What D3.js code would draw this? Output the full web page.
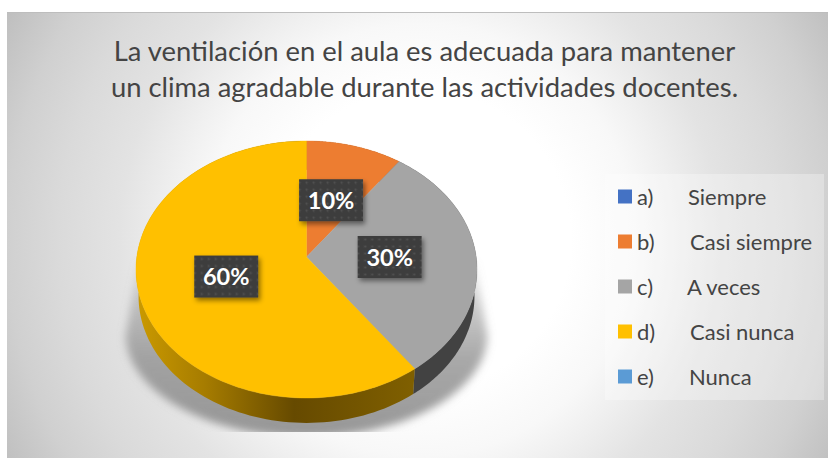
<!DOCTYPE html>
<html><head><meta charset="utf-8">
<script src="https://cdn.jsdelivr.net/npm/d3@7/dist/d3.min.js"></script>
<style>html,body{margin:0;padding:0;background:#fff}svg{display:block}text{font-family:Lato,"Open Sans",sans-serif}</style>
</head><body><script>
const titleLines = ["La ventilación en el aula es adecuada para mantener","un clima agradable durante las actividades docentes."];
const letters = ["a)","b)","c)","d)","e)"];
const names = ["Siempre","Casi siempre","A veces","Casi nunca","Nunca"];
const values = [0,10,30,60,0];
const colors = ["#4472c4","#ed7d31","#a5a5a5","#ffc000","#5b9bd5"];
const nameNudge = [0,2,-1,2,1];

const W=828,H=458;
const svg=d3.select("body").append("svg").attr("width",W).attr("height",H);
const defs=svg.append("defs");

// background
const bg=defs.append("radialGradient").attr("id","bg").attr("gradientUnits","userSpaceOnUse")
  .attr("cx",420).attr("cy",240).attr("r",470);
[[0,"#ffffff"],[0.32,"#ffffff"],[0.46,"#f8f8f8"],[0.53,"#f0f0f0"],[0.64,"#e3e3e3"],[0.77,"#dadada"],[0.88,"#d0d0d0"],[1,"#bfbfbf"]]
  .forEach(s=>bg.append("stop").attr("offset",s[0]).attr("stop-color",s[1]));
svg.append("rect").attr("x",7).attr("y",12).attr("width",W-7).attr("height",H-12).attr("fill","url(#bg)");
svg.append("line").attr("x1",7).attr("x2",W).attr("y1",12.5).attr("y2",12.5).attr("stroke","#bdbdbd");

// title
svg.append("g").selectAll("text").data(titleLines).join("text")
  .attr("x",424.5).attr("y",(d,i)=>61+i*36).attr("text-anchor","middle")
  .attr("font-size",27.4).attr("fill","#444").text(d=>d);

// perspective pie
const cx=306.5,cy=257,rx=169.7,a=127.3,k=0.0973,depth=27,lowScale=0.985;
const proj=(t,f=1)=>{const u=Math.sin(t)*f,v=-Math.cos(t)*f,w=1-k*v;return [cx+rx*u/w,cy+a*v/w];};
const low=(t)=>{const p=proj(t);return [cx+(p[0]-cx)*lowScale,cy+depth+(p[1]-cy)*lowScale];};
const pie=d3.pie().sort(null).startAngle(0).endAngle(2*Math.PI)(values);
const line=d3.line();
const samples=(s,e)=>d3.range(0,121).map(i=>s+(e-s)*i/120);

// soft shadow
defs.append("clipPath").attr("id","shClip").append("rect").attr("x",0).attr("y",0).attr("width",W).attr("height",432);
const blur=defs.append("filter").attr("id","blur").attr("x","-20%").attr("y","-20%").attr("width","140%").attr("height","140%");
blur.append("feGaussianBlur").attr("stdDeviation",4);
const shGrad=defs.append("linearGradient").attr("id","shGrad").attr("x1",0).attr("x2",0).attr("y1",0).attr("y2",1);
[[0,0.1],[0.25,0.45],[0.55,0.75],[1,0.9]].forEach(s=>shGrad.append("stop").attr("offset",s[0]).attr("stop-color","#8c8c8c").attr("stop-opacity",s[1]));
const shadowArc=d3.range(0,61).map(i=>{const t=Math.PI*i/60;return [306.5-181*Math.cos(t),334+103*Math.sin(t)];});
const shadowPts=[[138,262],[126,334]].concat(shadowArc,[[487,334],[475,262]]);
svg.append("g").attr("clip-path","url(#shClip)").append("path").attr("d",line(shadowPts)+"Z").attr("fill","url(#shGrad)").attr("filter","url(#blur)");

// side gradient
const sg=defs.append("linearGradient").attr("id","sideY").attr("gradientUnits","userSpaceOnUse").attr("x1",136).attr("x2",480).attr("y1",0).attr("y2",0);
[[0,"#cb9a00"],[0.2,"#a67c00"],[0.46,"#664a00"],[0.8,"#7f5f00"],[1,"#7f5f00"]].forEach(s=>sg.append("stop").attr("offset",s[0]).attr("stop-color",s[1]));
const sideFill=i=>i===3?"url(#sideY)":i===2?"#424242":d3.color(colors[i]).darker(1.5);

const nz=pie.map((d,i)=>({d,i})).filter(o=>o.d.value>0);
svg.append("g").selectAll("path").data(nz).join("path")
  .attr("d",o=>{const ts=samples(o.d.startAngle,o.d.endAngle);return line(ts.map(t=>proj(t)).concat(ts.slice().reverse().map(low)))+"Z";})
  .attr("fill",o=>sideFill(o.i));
svg.append("g").selectAll("path").data(nz).join("path")
  .attr("d",o=>line([[cx,cy]].concat(samples(o.d.startAngle,o.d.endAngle).map(t=>proj(t))))+"Z")
  .attr("fill",o=>colors[o.i]).attr("stroke",o=>colors[o.i]).attr("stroke-width",0.4);

// data labels
const pat=defs.append("pattern").attr("id","dots").attr("patternUnits","userSpaceOnUse").attr("width",7).attr("height",7);
pat.append("rect").attr("width",7).attr("height",7).attr("fill","#3e3e3e");
pat.append("circle").attr("cx",3.5).attr("cy",3.5).attr("r",1).attr("fill","#545454");
const ds=defs.append("filter").attr("id","ds").attr("x","-30%").attr("y","-30%").attr("width","170%").attr("height","170%");
ds.append("feDropShadow").attr("dx",2).attr("dy",3).attr("stdDeviation",2.5).attr("flood-color","#000").attr("flood-opacity",0.45);
const lab=svg.append("g").selectAll("g").data(nz).join("g")
  .attr("transform",o=>{const p=proj((o.d.startAngle+o.d.endAngle)/2,0.49);return `translate(${p[0]},${p[1]})`;});
lab.append("rect").attr("x",-32).attr("y",-21).attr("width",64).attr("height",42).attr("fill","url(#dots)").attr("filter","url(#ds)");
lab.append("text").attr("text-anchor","middle").attr("y",8.5).attr("font-size",23.5).attr("font-weight",700).attr("fill","#fff").text(o=>o.d.value+"%");

// legend
svg.append("rect").attr("x",605).attr("y",174).attr("width",219).attr("height",226).attr("fill","#fff").attr("fill-opacity",0.3);
const ly=d3.scalePoint().domain(letters).range([196.5,376.5]);
const lg=svg.append("g").selectAll("g").data(letters).join("g").attr("transform",d=>`translate(0,${ly(d)})`);
lg.append("rect").attr("x",618).attr("y",-7).attr("width",14).attr("height",14).attr("fill",(d,i)=>colors[i]);
lg.append("text").attr("x",637).attr("y",8).attr("font-size",22).attr("fill","#444").text(d=>d);
lg.append("text").attr("x",(d,i)=>688+nameNudge[i]).attr("y",8).attr("font-size",22).attr("fill","#444").text((d,i)=>names[i]);
</script></body></html>
